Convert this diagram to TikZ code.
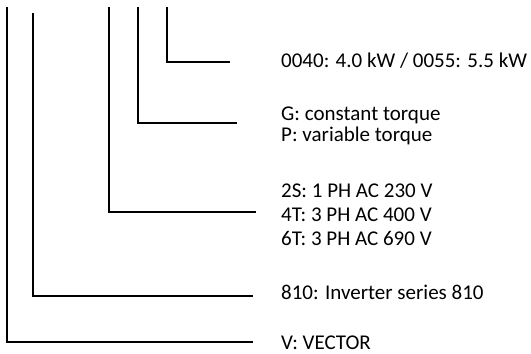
\documentclass[tikz,border=0pt]{standalone}
\usepackage{fontspec}
\setmainfont{Carlito}
\usetikzlibrary{positioning}
\tikzset{
    code/.style={anchor=base west, inner sep=0pt, font=\fontsize{21}{24}\selectfont},
    lead/.style={line width=1.5pt, black}
}
\begin{document}
\begin{tikzpicture}[x=1pt, y=-1pt]
    \useasboundingbox (0,0) rectangle (531,354);
    % code texts
    \node[code] (power) at (281,67) {0040: 4.0 kW / 0055: 5.5 kW};
    \node[code] (gtorque) at (281,120) {G: constant torque};
    \node[code] (ptorque) at (281,141) {P: variable torque};
    \node[code] (v230) at (281,197) {2S: 1 PH AC 230 V};
    \node[code] (v400) at (281,221) {4T: 3 PH AC 400 V};
    \node[code] (v690) at (281,245) {6T: 3 PH AC 690 V};
    \node[code] (series) at (281,299) {810: Inverter series 810};
    \node[code] (vector) at (281,349.5) {V: VECTOR};
    % leads
    \coordinate (topv) at (7,7);
    \coordinate (tops) at (33,13);
    \coordinate (topu) at (109,7);
    \coordinate (topt) at (138,7);
    \coordinate (topp) at (167,7);
    \coordinate (endv) at (253,342);
    \coordinate (ends) at (253,296);
    \coordinate (endu) at (256,212);
    \coordinate (endt) at (237,123);
    \coordinate (endp) at (230,62);
    \draw[lead] (topv) |- (endv);
    \draw[lead] (tops) |- (ends);
    \draw[lead] (topu) |- (endu);
    \draw[lead] (topt) |- (endt);
    \draw[lead] (topp) |- (endp);
\end{tikzpicture}
\end{document}
